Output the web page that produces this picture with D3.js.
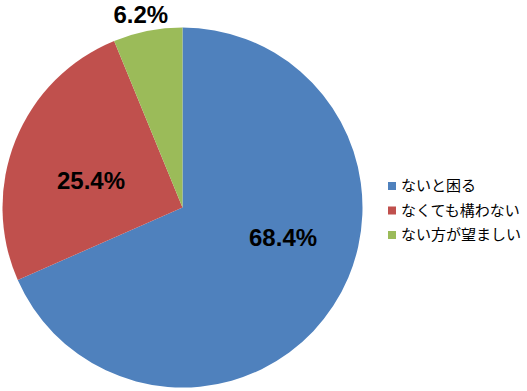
<!DOCTYPE html>
<meta charset="utf-8">
<style>
body { margin: 0; background: #fff; }
.label { font: bold 24px "Liberation Sans", Arial, sans-serif; text-anchor: middle; fill: #000; }
.legend text { font: 15px "Noto Sans CJK JP", sans-serif; fill: #000; }
</style>
<svg width="527" height="391"></svg>
<script src="https://cdn.jsdelivr.net/npm/d3@7/dist/d3.min.js"></script>
<script>

var categories = ["ないと困る", "なくても構わない", "ない方が望ましい"];
var values = [68.4, 25.4, 6.2];
var colors = ["#4F81BD", "#C0504D", "#9BBB59"];

var svg = d3.select("svg"),
    cx = 182.5, cy = 207.5, radius = 180;

var g = svg.append("g").attr("transform", "translate(" + cx + "," + cy + ")");

var pie = d3.pie().sort(null).value(function(d) { return d; });
var arc = d3.arc().innerRadius(0).outerRadius(radius);
var arcs = pie(values);

g.selectAll("path")
  .data(arcs)
  .enter().append("path")
    .attr("d", arc)
    .style("fill", function(d, i) { return colors[i]; });

// label placement (best-fit style): radius factor and angle shift in degrees
var labelR = [0.583, 0.53, 1.10];
var labelShift = [-16.5, -5.5, -1];

g.selectAll("text.label")
  .data(arcs)
  .enter().append("text")
    .attr("class", "label")
    .attr("dy", "0.36em")
    .attr("transform", function(d, i) {
      var a = (d.startAngle + d.endAngle) / 2 + labelShift[i] * Math.PI / 180,
          r = radius * labelR[i];
      return "translate(" + (r * Math.sin(a)) + "," + (-r * Math.cos(a)) + ")";
    })
    .text(function(d) { return d.data.toFixed(1) + "%"; });

var legend = svg.append("g").attr("class", "legend")
    .attr("transform", "translate(388,186)");

var item = legend.selectAll("g")
  .data(categories)
  .enter().append("g")
    .attr("transform", function(d, i) { return "translate(0," + i * 24.5 + ")"; });

item.append("rect")
    .attr("width", 8).attr("height", 8)
    .attr("y", -4)
    .style("fill", function(d, i) { return colors[i]; });

item.append("text")
    .attr("x", 13)
    .attr("dy", "0.35em")
    .text(function(d) { return d; });

</script>
